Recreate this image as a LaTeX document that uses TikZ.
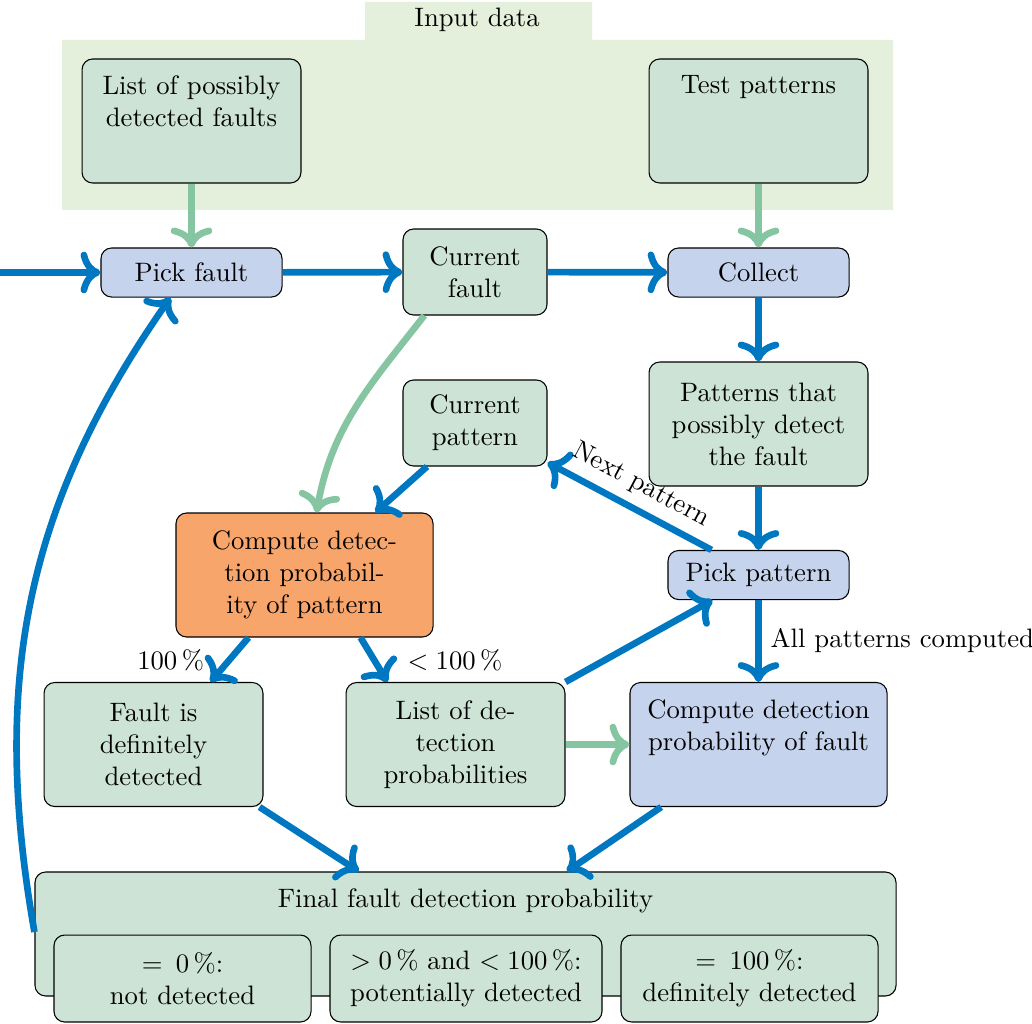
\documentclass[tikz,border=0pt]{standalone}
\usetikzlibrary{arrows.meta}

\definecolor{boxgreen}{HTML}{CCE3D5}
\definecolor{boxblue}{HTML}{C5D3EC}
\definecolor{boxorange}{HTML}{F7A56B}
\definecolor{inputbg}{HTML}{E5F0DC}
\definecolor{flowblue}{HTML}{0077C1}
\definecolor{flowgreen}{HTML}{86C5A1}

\tikzset{
  box/.style={draw, rounded corners=4pt, align=center, inner sep=2pt},
  gbox/.style={box, fill=boxgreen},
  bbox/.style={box, fill=boxblue},
  obox/.style={box, fill=boxorange},
  toptext/.style={label={[align=center, anchor=north, yshift=-3pt]north:#1}},
  flow/.style={-{To[scale=1.05]}, line width=2.5pt, draw=flowblue},
  feed/.style={-{To[scale=1.05]}, line width=2.5pt, draw=flowgreen}
}

\begin{document}
\begin{tikzpicture}[x=0.375pt, y=-0.375pt]
\useasboundingbox (0,0) rectangle (1032,1023);

% input data area with its tab
\fill[inputbg] (62,40) rectangle (893,210) (365,2) rectangle (592,40);
\node (input) at (477,20) {Input data};
\node[gbox, minimum width=82.1pt, minimum height=46.5pt,
  toptext={List of possibly\\detected faults}] (faults) at (191.5,121) {};
\node[gbox, minimum width=82.1pt, minimum height=46.5pt,
  toptext={Test patterns}] (tests) at (758.5,121) {};

% fault loop
\node[bbox, minimum width=67.9pt, minimum height=18.4pt] (pickfault) at (191.5,272.5) {Pick fault};
\node[gbox, minimum width=54pt, minimum height=32.25pt] (curfault) at (475,272) {Current\\fault};
\node[bbox, minimum width=67.9pt, minimum height=18.4pt] (collect) at (758.5,272.5) {Collect};
\node[gbox, minimum width=82.1pt, minimum height=46.5pt] (possible) at (758.5,424) {Patterns that\\possibly detect\\the fault};

% pattern loop
\node[gbox, minimum width=54pt, minimum height=32.25pt] (curpat) at (475,423) {Current\\pattern};
\node[obox, minimum width=96.4pt, minimum height=46.5pt] (comppat) at (304.5,575) {Compute detec-\\tion probabil-\\ity of pattern};
\node[bbox, minimum width=67.9pt, minimum height=18.4pt] (pickpat) at (758.5,575) {Pick pattern};
\node[gbox, minimum width=82.1pt, minimum height=46.5pt] (definite) at (153.5,744.5) {Fault is\\definitely\\detected};
\node[gbox, minimum width=82.1pt, minimum height=46.5pt] (problist) at (455.5,744.5) {List of de-\\tection\\probabilities};
\node[bbox, minimum width=96.4pt, minimum height=46.5pt,
  toptext={Compute detection\\probability of fault}] (compfault) at (758.5,744.5) {};

% result
\node[gbox, minimum width=322.9pt, minimum height=46.5pt,
  toptext={Final fault detection probability}] (final) at (465.5,934) {};
\node[gbox, minimum width=96.4pt, minimum height=32.6pt] (res0) at (182.5,978.5) {$=$\enspace 0\,\%:\\not detected};
\node[gbox, minimum width=102pt, minimum height=32.6pt] (resmid) at (466,978.5) {$>0\,\%$ and $<100\,\%$:\\potentially detected};
\node[gbox, minimum width=96.4pt, minimum height=32.6pt] (res100) at (749.5,978.5) {$=$\enspace 100\,\%:\\definitely detected};

% connections
\coordinate (entry) at (0,272.5);
\draw[flow] (entry) -- (pickfault);
\draw[feed] (faults) -- (pickfault);
\draw[feed] (tests) -- (collect);
\draw[flow] (pickfault) -- (curfault);
\draw[flow] (curfault) -- (collect);
\draw[flow] (collect) -- (possible);
\draw[feed] ([xshift=-19pt]curfault.south) to[out=-128, in=80] ([xshift=4.5pt]comppat.north);
\draw[flow] ([xshift=-18pt]curpat.south) -- ([xshift=26.6pt]comppat.north);
\draw[flow] (possible) -- (pickpat);
\draw[flow] ([xshift=-17.6pt]pickpat.north) -- node[midway, above, sloped] {Next pattern} ([yshift=1.5pt]curpat.south east);
\draw[flow] ([xshift=-21pt]comppat.south) -- node[midway, left=5pt] {100\,\%} ([xshift=21.4pt]definite.north);
\draw[flow] ([xshift=21pt]comppat.south) -- node[midway, right=8pt] {$<100\,\%$} ([xshift=-25.5pt]problist.north);
\draw[flow] (problist.north east) -- ([xshift=-17.25pt]pickpat.south);
\draw[flow] (pickpat) -- node[midway, right] {All patterns computed} (compfault);
\draw[feed] (problist) -- (compfault);
\draw[flow] ([xshift=-1.5pt]definite.south east) -- ([xshift=-40pt]final.north);
\draw[flow] ([xshift=-36.5pt]compfault.south) -- ([xshift=38pt]final.north);
\draw[flow] ([yshift=0.75pt]final.west) to[out=100, in=-125] ([xshift=-7.9pt]pickfault.south);
\end{tikzpicture}
\end{document}
